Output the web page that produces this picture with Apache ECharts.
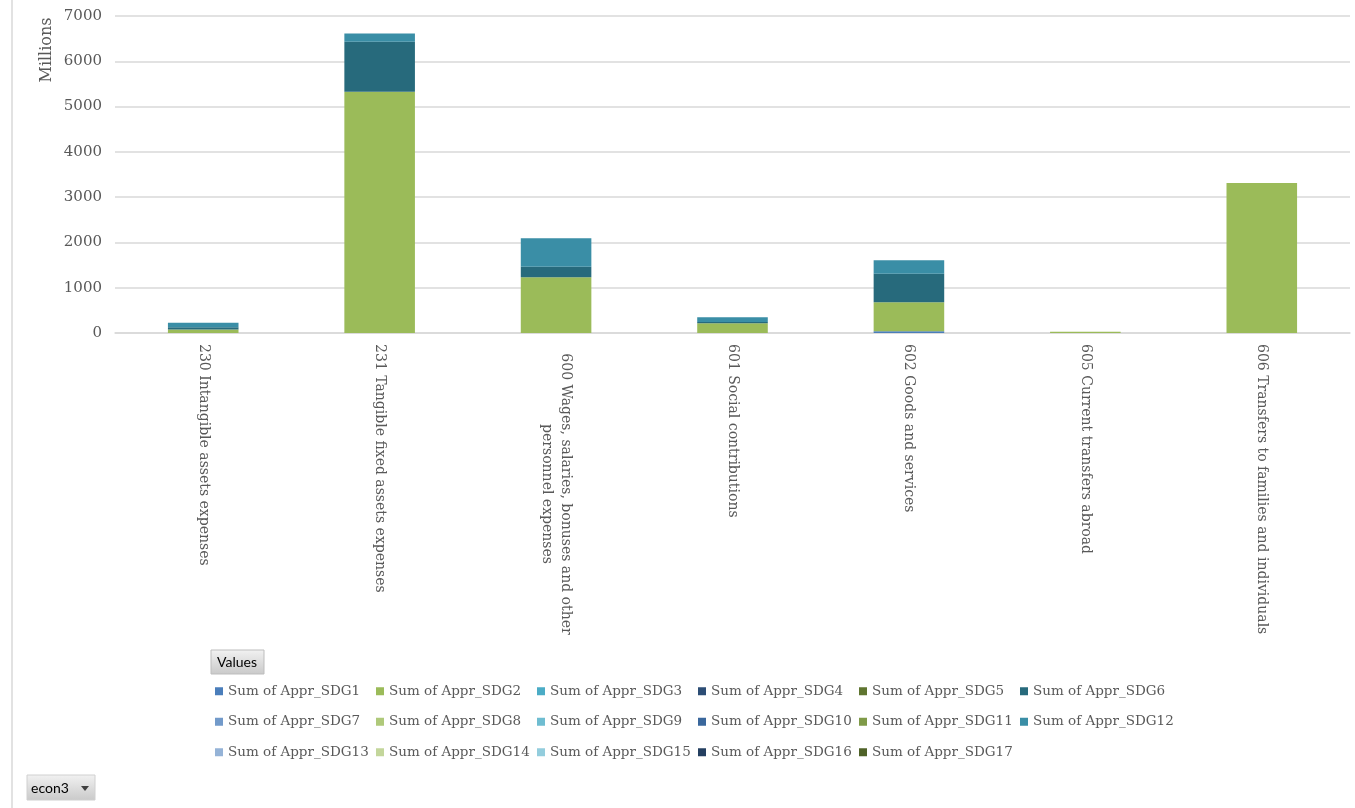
<!DOCTYPE html>
<html>
<head>
<meta charset="utf-8">
<script src="https://cdn.jsdelivr.net/npm/echarts@6/dist/echarts.min.js"></script>
<style>
  html, body { margin: 0; padding: 0; background: #fff; }
  #chart { width: 1355px; height: 808px; }
</style>
</head>
<body>
<div id="chart"></div>
<script>
  // categories (econ3)
  const categories = [
    '230 Intangible assets expenses',
    '231 Tangible fixed assets expenses',
    '600 Wages, salaries, bonuses and other\npersonnel expenses',
    '601 Social contributions',
    '602 Goods and services',
    '605 Current transfers abroad',
    '606 Transfers to families and individuals'
  ]
  const yTicks = [0, 1000, 2000, 3000, 4000, 5000, 6000, 7000]

  // values, millions
  const sdg1  = [0, 0, 0, 0, 40, 0, 0]
  const sdg2  = [80, 5330, 1230, 215, 640, 30, 3310]
  const sdg3  = [0, 0, 0, 0, 0, 0, 0]
  const sdg4  = [0, 0, 0, 0, 0, 0, 0]
  const sdg5  = [0, 0, 0, 0, 0, 0, 0]
  const sdg6  = [45, 1100, 235, 30, 630, 0, 0]
  const sdg7  = [0, 0, 0, 0, 0, 0, 0]
  const sdg8  = [0, 0, 0, 0, 0, 0, 0]
  const sdg9  = [0, 0, 0, 0, 0, 0, 0]
  const sdg10 = [0, 0, 0, 0, 0, 0, 0]
  const sdg11 = [0, 0, 0, 0, 0, 0, 0]
  const sdg12 = [100, 185, 630, 105, 295, 0, 0]
  const sdg13 = [0, 0, 0, 0, 0, 0, 0]
  const sdg14 = [0, 0, 0, 0, 0, 0, 0]
  const sdg15 = [0, 0, 0, 0, 0, 0, 0]
  const sdg16 = [0, 0, 0, 0, 0, 0, 0]
  const sdg17 = [0, 0, 0, 0, 0, 0, 0]

  const seriesData = [sdg1, sdg2, sdg3, sdg4, sdg5, sdg6, sdg7, sdg8, sdg9,
    sdg10, sdg11, sdg12, sdg13, sdg14, sdg15, sdg16, sdg17]
  const colors = ['#4a7ebb', '#9bbb59', '#4bacc6', '#2c4d75', '#5f7530', '#276a7c',
    '#729aca', '#afc97a', '#6fbdd1', '#3a679c', '#7f9a48', '#3a8ea6',
    '#95b3d7', '#c3d69b', '#93cddd', '#243f60', '#4f6228']

  const serif = 'DejaVu Serif'
  const grey = '#595959'

  const chart = echarts.init(document.getElementById('chart'))

  const btnFill = new echarts.graphic.LinearGradient(0, 0, 0, 1, [
    { offset: 0, color: '#f2f2f2' },
    { offset: 1, color: '#c9c9c9' }
  ])

  chart.setOption({
    animation: false,
    color: colors,
    grid: { left: 115, right: 5, top: 16, bottom: 475 },
    legend: {
      left: 215,
      top: 676,
      width: 1000,
      padding: 0,
      itemGap: 0,
      itemWidth: 8,
      itemHeight: 8,
      icon: 'rect',
      textStyle: {
        fontFamily: serif,
        fontSize: 13.5,
        color: grey,
        width: 148,
        lineHeight: 30.5
      }
    },
    xAxis: {
      type: 'category',
      data: categories,
      axisTick: { show: false },
      axisLine: { lineStyle: { color: '#d9d9d9', width: 1.5 } },
      axisLabel: {
        interval: 0,
        rotate: -90,
        margin: 11,
        fontFamily: serif,
        fontSize: 14,
        color: grey,
        formatter: v => v.includes('\n')
          ? v.split('\n').map(s => '{w|' + s + '}').join('\n')
          : v,
        rich: {
          w: { width: 300, align: 'center', fontFamily: serif, fontSize: 14, color: grey, lineHeight: 19 }
        }
      }
    },
    yAxis: {
      type: 'value',
      min: yTicks[0],
      max: yTicks[yTicks.length - 1],
      interval: 1000,
      axisLine: { show: false },
      axisTick: { show: false },
      splitLine: { lineStyle: { color: '#d9d9d9', width: 1.5 } },
      axisLabel: { margin: 13, fontFamily: serif, fontSize: 15, color: grey, formatter: v => String(v) }
    },
    series: seriesData.map((d, i) => ({
      name: 'Sum of Appr_SDG' + (i + 1),
      type: 'bar',
      stack: 'total',
      barWidth: '40%',
      data: d
    })),
    graphic: [
      {
        type: 'line',
        shape: { x1: 12, y1: 0, x2: 12, y2: 808 },
        style: { stroke: '#d9d9d9', lineWidth: 1.5 }
      },
      {
        type: 'text',
        x: 47, y: 50,
        rotation: Math.PI / 2,
        style: { text: 'Millions', fontFamily: serif, fontSize: 16, fill: grey, align: 'center', verticalAlign: 'middle' }
      },
      {
        type: 'rect',
        shape: { x: 211, y: 650, width: 53, height: 24 },
        style: { fill: btnFill, stroke: '#bdbdbd', lineWidth: 1 }
      },
      {
        type: 'text',
        x: 237, y: 662,
        style: { text: 'Values', fontFamily: 'Lato', fontSize: 14, fill: '#000', align: 'center', verticalAlign: 'middle' }
      },
      {
        type: 'rect',
        shape: { x: 27, y: 775, width: 68, height: 25 },
        style: { fill: btnFill, stroke: '#d0d0d0', lineWidth: 1 }
      },
      {
        type: 'text',
        x: 31, y: 788,
        style: { text: 'econ3', fontFamily: 'Lato', fontSize: 14, fill: '#000', align: 'left', verticalAlign: 'middle' }
      },
      {
        type: 'polygon',
        shape: { points: [[81, 786], [89, 786], [85, 791]] },
        style: { fill: '#404040' }
      }
    ]
  })
</script>
</body>
</html>
